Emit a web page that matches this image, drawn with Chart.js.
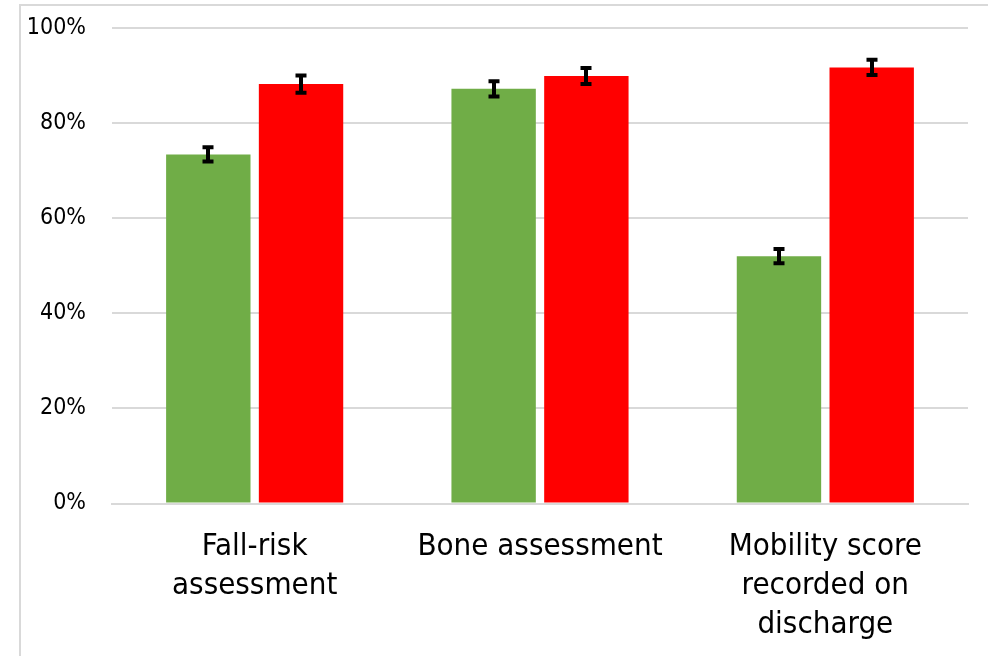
<!DOCTYPE html>
<html>
<head>
<meta charset="utf-8">
<script src="https://cdn.jsdelivr.net/npm/chart.js@4"></script>
<style>
  html, body { margin: 0; padding: 0; background: #fff; overflow: hidden; }
  #frame { position: absolute; left: 19px; top: 4px; width: 1000px; height: 700px; border: 2px solid #d9d9d9; }
  #wrap { position: absolute; left: 0; top: 0; width: 988px; height: 656px; }
</style>
</head>
<body>
<div id="frame"></div>
<div id="wrap"><canvas id="chart"></canvas></div>
<script>
'use strict';

// Data
let categories = [
  ['Fall-risk', 'assessment'],
  'Bone assessment',
  ['Mobility score', 'recorded on', 'discharge']
];
let greenValues = [73.4, 87.2, 52.0];
let greenErrors = [1.5, 1.6, 1.5];
let redValues = [88.2, 89.9, 91.7];
let redErrors = [1.8, 1.7, 1.6];
let tickValues = [0, 20, 40, 60, 80, 100];

// Error bars drawn from the y scale
let errorBars = {
  id: 'errorBars',
  afterDatasetsDraw(chart){
    let ctx = chart.ctx;
    let yScale = chart.scales.y;
    ctx.save();
    ctx.strokeStyle = '#000';
    ctx.lineWidth = 4;
    ctx.lineCap = 'butt';
    chart.data.datasets.forEach((ds, i) => {
      let meta = chart.getDatasetMeta(i);
      meta.data.forEach((bar, j) => {
        let top = yScale.getPixelForValue(ds.data[j] + ds.errors[j]);
        let bottom = yScale.getPixelForValue(ds.data[j] - ds.errors[j]);
        let x = Math.round(bar.x);
        ctx.beginPath();
        ctx.moveTo(x, top);
        ctx.lineTo(x, bottom);
        ctx.moveTo(x - 5.5, top);
        ctx.lineTo(x + 5.5, top);
        ctx.moveTo(x - 5.5, bottom);
        ctx.lineTo(x + 5.5, bottom);
        ctx.stroke();
      });
    });
    ctx.restore();
  }
};

let chartContext = document.getElementById('chart');

new Chart(chartContext, { // eslint-disable-line
  type: 'bar',
  data: {
    labels: categories,
    datasets: [{
      label: 'Green',
      data: greenValues,
      errors: greenErrors,
      backgroundColor: '#70ad47',
      categoryPercentage: 0.65,
      barPercentage: 0.91
    },
    {
      label: 'Red',
      data: redValues,
      errors: redErrors,
      backgroundColor: '#ff0000',
      categoryPercentage: 0.65,
      barPercentage: 0.91
    }]
  },
  options: {
    responsive: true,
    maintainAspectRatio: false,
    animation: false,
    layout: {
      padding: { left: 20, right: 20, top: 28, bottom: 0 }
    },
    plugins: {
      legend: { display: false },
      tooltip: { enabled: false }
    },
    scales: {
      x: {
        afterFit(scale){ scale.height = 152.5; },
        grid: { display: false, drawTicks: false },
        border: { color: '#d9d9d9', width: 2 },
        ticks: {
          color: '#000',
          padding: 23.5,
          maxRotation: 0,
          autoSkip: false,
          font: { family: 'DejaVu Sans Condensed', size: 31, lineHeight: 1.27 }
        }
      },
      y: {
        min: 0,
        max: 100,
        afterFit(scale){
          scale.width = 92;
          scale.paddingTop = 0;
          scale.paddingBottom = 0;
        },
        afterBuildTicks(scale){ scale.ticks = tickValues.map(v => ({ value: v })); },
        grid: { color: '#d9d9d9', lineWidth: 2, drawTicks: false },
        border: { display: false },
        ticks: {
          color: '#000',
          padding: 26,
          font: { family: 'DejaVu Sans Condensed', size: 23 },
          callback: v => v + '%'
        }
      }
    }
  },
  plugins: [errorBars]
});
</script>
</body>
</html>
